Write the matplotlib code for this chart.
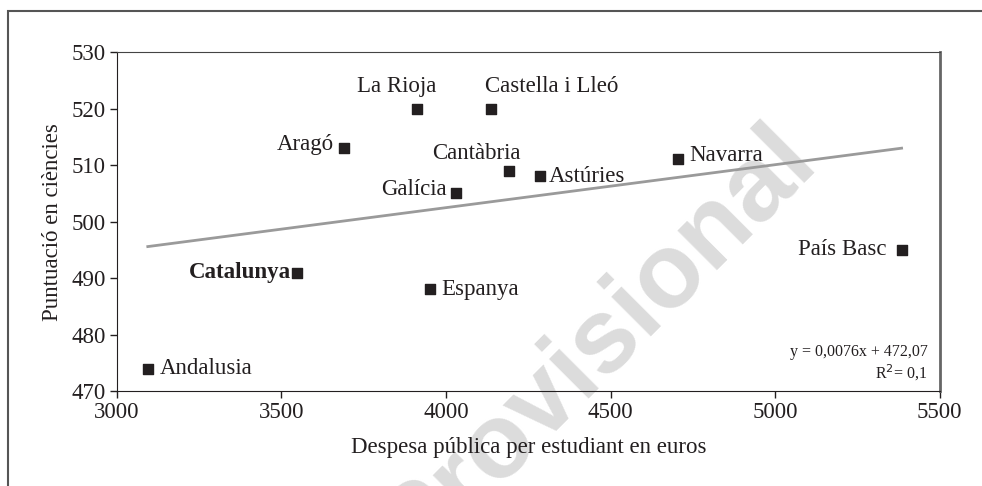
"""Despesa pública per estudiant vs puntuació en ciències"""
import matplotlib.pyplot as plt
from matplotlib.patches import Rectangle
import numpy as np

plt.rcParams['font.family'] = ['Liberation Serif', 'DejaVu Serif']

regions = ["Andalusia", "Catalunya", "Aragó", "La Rioja", "Espanya", "Galícia",
           "Castella i Lleó", "Cantàbria", "Astúries", "Navarra", "País Basc"]
spending = [3094, 3548, 3691, 3913, 3950, 4029, 4136, 4191, 4285, 4705, 5384]
science = [474, 491, 513, 520, 488, 505, 520, 509, 508, 511, 495]

# label placement: offset in pixels + alignment
offsets = {
    "Andalusia": (12, 0, "left", "center"),
    "Catalunya": (-6, 0, "right", "center"),
    "Aragó": (-10, 4, "right", "center"),
    "La Rioja": (-21, 12, "center", "bottom"),
    "Espanya": (12, 0, "left", "center"),
    "Galícia": (-9, 4, "right", "center"),
    "Castella i Lleó": (-6, 12, "left", "bottom"),
    "Cantàbria": (12, 7, "right", "bottom"),
    "Astúries": (9, 0, "left", "center"),
    "Navarra": (11, 4, "left", "center"),
    "País Basc": (-15, 0, "right", "center"),
}

slope, intercept = 0.0076, 472.07

fig = plt.figure(figsize=(9.82, 4.86), dpi=100)
ax = fig.add_axes([0.119, 0.195, 0.838, 0.698])
ax.set_facecolor("none")

# watermark
fig.text(598 / 982, 1 - 344 / 486, "Provisional", fontsize=76, fontweight="bold",
         family="Liberation Sans", color="#dcdcdc", rotation=45,
         ha="center", va="center", zorder=-1)

# outer frame
fig.patches.append(Rectangle((8 / 982, -0.1), 1.2, 1.077, transform=fig.transFigure,
                             fill=False, edgecolor="#555555", linewidth=1.5))

ax.scatter(spending, science, marker="s", s=45, color="#231f20", zorder=3)

xs = np.array([min(spending), max(spending)])
ax.plot(xs, slope * xs + intercept, color="#9a9a9a", linewidth=2, zorder=2)

for name, x, y in zip(regions, spending, science):
    dx, dy, ha, va = offsets[name]
    ax.annotate(name, (x, y), xytext=(dx, dy), textcoords="offset pixels",
                ha=ha, va=va, fontsize=16.5, color="#231f20",
                fontweight="bold" if name == "Catalunya" else "normal")

ax.text(0.985, 0.115, "y = 0,0076x + 472,07", transform=ax.transAxes,
        ha="right", va="center", fontsize=11.5, color="#231f20")
ax.text(0.985, 0.055, "R$^2$= 0,1", transform=ax.transAxes,
        ha="right", va="center", fontsize=11.5, color="#231f20")

ax.set_xlim(3000, 5500)
ax.set_ylim(470, 530)
ax.set_xticks([3000, 3500, 4000, 4500, 5000, 5500])
ax.set_yticks([470, 480, 490, 500, 510, 520, 530])
ax.tick_params(labelsize=16.5, colors="#231f20", length=5, width=1, pad=3)
ax.set_xlabel("Despesa pública per estudiant en euros", fontsize=16.5,
              color="#231f20", labelpad=10)
ax.set_ylabel("Puntuació en ciències", fontsize=16.5, color="#231f20", labelpad=6)

ax.spines["left"].set_color("#231f20")
ax.spines["bottom"].set_color("#231f20")
ax.spines["top"].set_color("#444444")
ax.spines["right"].set_color("#666666")
ax.spines["right"].set_linewidth(2)

plt.savefig("out.png", dpi=100)
